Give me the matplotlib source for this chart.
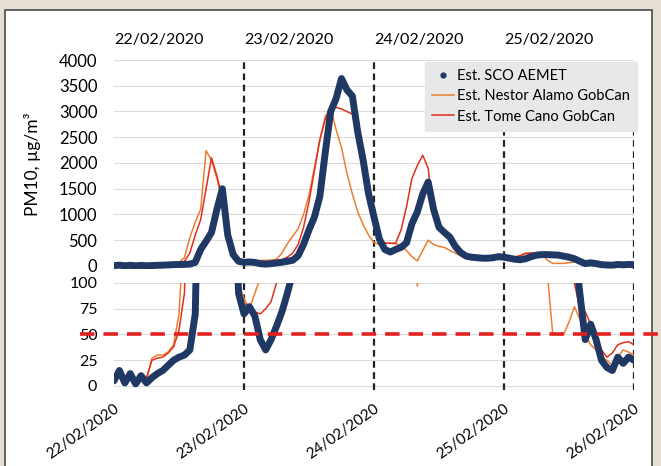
import matplotlib
matplotlib.use('Agg')
from matplotlib import pyplot as plt
from matplotlib.lines import Line2D
from matplotlib.patches import Rectangle
import matplotlib.transforms as mtransforms
import pandas as pd

plt.rcParams['font.family'] = ['Lato', 'DejaVu Sans']

# hourly PM10 values, 22/02/2020 00:00 -> 26/02/2020 00:00
times = pd.date_range('2020-02-22 00:00', '2020-02-26 00:00', freq='h')

sco_aemet = [5, 15, 3, 12, 2, 10, 3, 8, 12, 15, 20, 25, 28, 30, 35, 70, 320, 480, 650, 1100, 1500, 600, 220, 90,
             70, 77, 68, 45, 35, 45, 58, 72, 90, 110, 200, 420, 700, 950, 1350, 2200, 3000, 3250, 3640, 3420, 3300, 2600, 2050, 1400,
             950, 520, 320, 270, 320, 360, 450, 820, 1050, 1400, 1630, 1100, 750, 650, 560, 380, 260, 190, 170, 160, 150, 150, 160, 180,
             170, 150, 130, 120, 140, 180, 210, 220, 220, 215, 210, 190, 170, 140, 90, 45, 60, 45, 25, 18, 15, 28, 22, 28, 25]

nestor_alamo = [6, 8, 5, 7, 5, 8, 6, 27, 30, 30, 33, 40, 70, 160, 550, 850, 1100, 2240, 2050, 1700, 1250, 450, 150, 100,
                85, 75, 90, 105, 110, 115, 130, 250, 430, 580, 720, 1000, 1380, 1900, 2450, 2900, 3070, 2650, 2300, 1800, 1400, 1050, 800, 600,
                450, 420, 440, 440, 430, 400, 300, 180, 97, 300, 500, 420, 380, 360, 300, 250, 200, 170, 160, 170, 190, 180, 170, 180,
                170, 160, 170, 200, 250, 250, 250, 240, 110, 50, 50, 50, 62, 77, 65, 50, 40, 35, 28, 25, 20, 28, 35, 33, 30]

tome_cano = [4, 10, 6, 8, 4, 7, 8, 25, 27, 28, 32, 38, 54, 90, 250, 600, 900, 1500, 2100, 1750, 1300, 500, 180, 95,
             80, 78, 72, 70, 75, 82, 100, 120, 170, 250, 420, 750, 1250, 1850, 2450, 2850, 3080, 3080, 3050, 3000, 2950, 2500, 1900, 1300,
             800, 450, 445, 440, 445, 700, 1150, 1700, 1950, 2150, 1900, 1000, 720, 620, 520, 380, 260, 200, 180, 170, 170, 165, 170, 180,
             170, 160, 170, 200, 240, 250, 250, 250, 240, 220, 200, 170, 140, 100, 75, 72, 60, 50, 35, 28, 32, 40, 42, 43, 40]

days = pd.to_datetime(['2020-02-22', '2020-02-23', '2020-02-24', '2020-02-25', '2020-02-26'])
day_labels = ['22/02/2020', '23/02/2020', '24/02/2020', '25/02/2020', '26/02/2020']
limit = 50

navy = '#1f3864'
orange = '#ed7d31'
red = '#e0301e'
grid = '#dcdcdc'

fig = plt.figure(figsize=(6.61, 4.66), dpi=100, facecolor='#e5dfd5')
fig.patches.append(Rectangle((5 / 661, -0.01), 647 / 661, 456 / 466 + 0.01,
                             transform=fig.transFigure, facecolor='white',
                             edgecolor='#4a4a4a', lw=1.2, zorder=-5))

ax1 = fig.add_axes([114 / 661, 0.4227, 520 / 661, 0.4485])
ax2 = fig.add_axes([114 / 661, (466 - 390.1) / 466, 520 / 661, 107.1 / 466])

for ax in (ax1, ax2):
    ax.set_facecolor('none')
    ax.plot(times, nestor_alamo, color=orange, lw=1.1, zorder=3)
    ax.plot(times, tome_cano, color=red, lw=1.1, zorder=3)
    ax.plot(times, sco_aemet, color=navy, lw=5, solid_capstyle='round',
            solid_joinstyle='round', zorder=4)
    for d in days[1:]:
        ax.axvline(d, color='#222222', lw=1.6, ls=(0, (3, 2)), zorder=2)
    ax.set_xlim(days[0], days[-1])
    for s in ax.spines.values():
        s.set_visible(False)
    ax.grid(axis='y', color=grid, lw=0.8)
    ax.set_axisbelow(True)
    ax.tick_params(length=0, labelsize=12, pad=12)

ax1.set_ylim(-60, 4000)
ax1.set_yticks(range(0, 4001, 500))
ax1.set_xticks([])
ax1.set_ylabel('PM10, µg/m³', fontsize=12.5)
ax1.yaxis.set_label_coords(-0.14, 0.5)

trans = mtransforms.blended_transform_factory(ax1.transData, ax1.transAxes)
for d, lab in zip(days[:-1], day_labels[:-1]):
    ax1.text(d, 1.096, lab, transform=trans, ha='left', va='center', fontsize=11.5)

ax2.set_ylim(-4, 100)
ax2.set_yticks(range(0, 101, 25))
ax2.set_xticks(days)
ax2.set_xticklabels(day_labels, rotation=35, ha='right', rotation_mode='anchor', fontsize=11)
ax2.tick_params(axis='x', pad=8)
ax2.tick_params(axis='y', labelsize=11.5)
ax2.axhline(limit, xmin=-0.065, xmax=1.06, color='#e32020', lw=2.6,
            ls=(0, (4, 2.5)), clip_on=False, zorder=5)

handles = [Line2D([], [], color=navy, marker='o', ls='none', ms=3.5),
           Line2D([], [], color=orange, lw=1.1),
           Line2D([], [], color=red, lw=1.1)]
labels = ['Est. SCO AEMET', 'Est. Nestor Alamo GobCan', 'Est. Tome Cano GobCan']
leg = fig.legend(handles, labels, loc='upper right', bbox_to_anchor=(637 / 661, 1 - 62 / 466),
                 frameon=True, fancybox=False, facecolor='#e8e8e8', edgecolor='#e8e8e8',
                 framealpha=1, fontsize=10.5, handlelength=1.5, handletextpad=0.2,
                 labelspacing=0.42, borderpad=0.5, borderaxespad=0)
leg.set_zorder(10)

fig.savefig('out.png', dpi=100, facecolor=fig.get_facecolor())
